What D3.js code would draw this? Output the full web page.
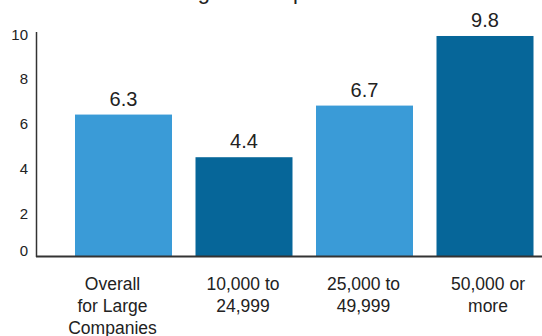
<!DOCTYPE html>
<html>
<head>
<meta charset="utf-8">
<script src="https://cdn.jsdelivr.net/npm/d3@7"></script>
<style>
  body { margin: 0; background: #fff; }
  text { font-family: "Liberation Sans", Arial, sans-serif; fill: #222; }
</style>
</head>
<body>
<div id="chart"></div>
<script>
// chart data
var categories = ["Overall\nfor Large\nCompanies", "10,000 to\n24,999", "25,000 to\n49,999", "50,000 or\nmore"];
var values = [6.3, 4.4, 6.7, 9.8];
var yTicks = [0, 2, 4, 6, 8, 10];
var title = "Average Hours per Worker";

var width = 542, height = 336;
var colors = ["#3a9bd7", "#066699"];

var svg = d3
  .select("#chart")
  .append("svg")
  .attr("width", width)
  .attr("height", height);

// scales
var x = d3.scaleBand().domain(d3.range(values.length)).range([51.5, 557]).padding(0.195);
var y = d3.scaleLinear().domain([0, 10]).range([256, 31.5]);

// title (clipped by the top edge in the original)
svg
  .append("text")
  .attr("x", 271)
  .attr("y", -1)
  .attr("text-anchor", "middle")
  .style("font-size", "22px")
  .text(title);

// bars
svg
  .selectAll(".bar")
  .data(values)
  .enter()
  .append("rect")
  .attr("class", "bar")
  .attr("x", function (d, i) { return x(i); })
  .attr("y", function (d) { return y(d); })
  .attr("width", x.bandwidth())
  .attr("height", function (d) { return y(0) - y(d); })
  .attr("fill", function (d, i) { return colors[i % 2]; });

// value labels
svg
  .selectAll(".val")
  .data(values)
  .enter()
  .append("text")
  .attr("class", "val")
  .attr("x", function (d, i) { return x(i) + x.bandwidth() / 2; })
  .attr("y", function (d) { return y(d) - 9; })
  .attr("text-anchor", "middle")
  .style("font-size", "20px")
  .text(function (d) { return d3.format(".1f")(d); });

// y axis: labels only, plus a plain line
var yAxis = svg
  .append("g")
  .attr("transform", "translate(37,0)")
  .call(d3.axisLeft(y).tickValues(yTicks).tickSize(0).tickPadding(9));
yAxis.select(".domain").remove();
yAxis
  .selectAll(".tick text")
  .style("font-size", "15px")
  .style("font-family", "'Liberation Sans', Arial, sans-serif")
  .attr("fill", "#222")
  .attr("dy", function (d) { return d === 0 ? "-0.05em" : "0.5em"; });

svg
  .append("line")
  .attr("x1", 36.5).attr("x2", 36.5)
  .attr("y1", 32).attr("y2", 257)
  .attr("stroke", "#333")
  .attr("stroke-width", 1.5);

// baseline
svg
  .append("line")
  .attr("x1", 36).attr("x2", width)
  .attr("y1", 256.5).attr("y2", 256.5)
  .attr("stroke", "#333")
  .attr("stroke-width", 2);

// category labels
var cat = svg
  .selectAll(".cat")
  .data(categories)
  .enter()
  .append("text")
  .attr("class", "cat")
  .attr("text-anchor", "middle")
  .attr("transform", function (d, i) {
    var cx = x(i) + x.bandwidth() / 2 + (i === 0 ? -11 : i === 3 ? 3 : -1);
    return "translate(" + cx + ",289.5)";
  })
  .style("font-size", "17.5px");

cat
  .selectAll("tspan")
  .data(function (d) { return d.split("\n"); })
  .enter()
  .append("tspan")
  .attr("x", 0)
  .attr("y", function (d, i) { return i * 22; })
  .text(function (d) { return d; });
</script>
</body>
</html>
